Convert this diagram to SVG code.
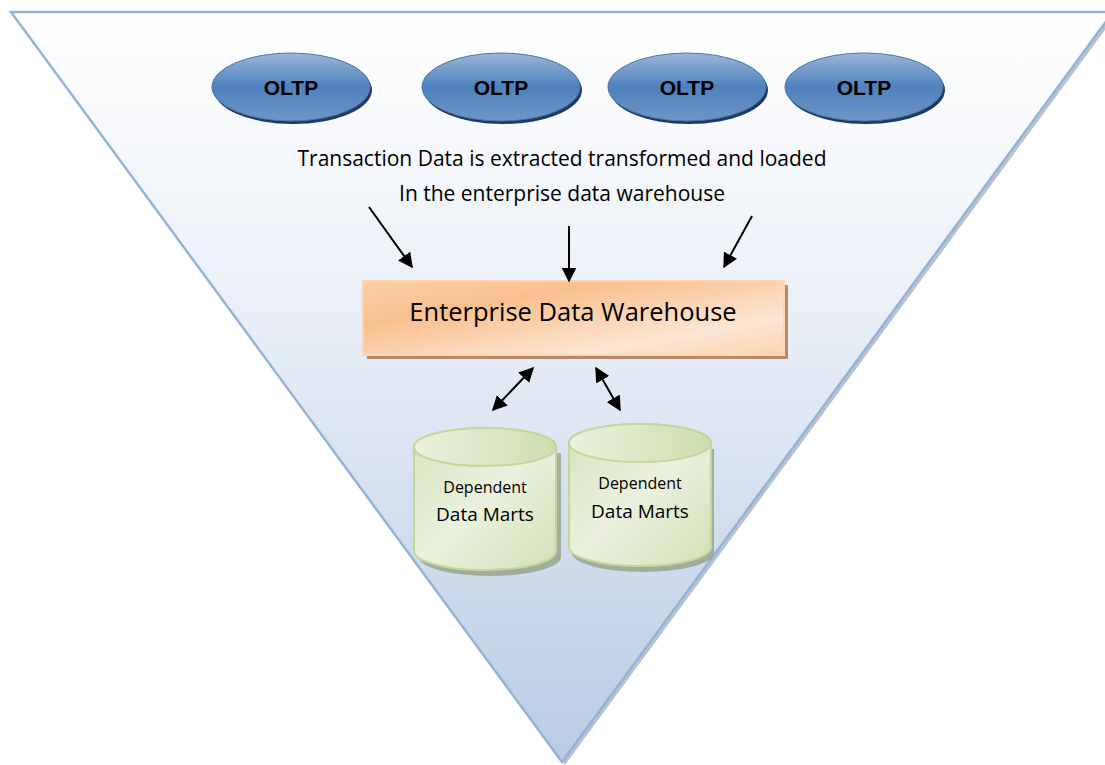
<svg xmlns="http://www.w3.org/2000/svg" width="1105" height="765" viewBox="0 0 1105 765">
<defs>
<linearGradient id="triG" x1="0" y1="0" x2="0" y2="1">
<stop offset="0" stop-color="#ffffff"/>
<stop offset="0.4" stop-color="#eaeff7"/>
<stop offset="1" stop-color="#b8cce4"/>
</linearGradient>
<linearGradient id="oltpG" x1="0" y1="0" x2="0" y2="1">
<stop offset="0" stop-color="#9ab6d9"/>
<stop offset="0.5" stop-color="#4f81bd"/>
<stop offset="1" stop-color="#6f95c6"/>
</linearGradient>
<linearGradient id="edwG" x1="0" y1="0" x2="1" y2="1">
<stop offset="0" stop-color="#fbd0a8"/>
<stop offset="0.3" stop-color="#f9c08e"/>
<stop offset="0.75" stop-color="#fde6d3"/>
<stop offset="1" stop-color="#fbd3b0"/>
</linearGradient>
<linearGradient id="cylG" x1="0" y1="0" x2="1" y2="1">
<stop offset="0" stop-color="#d6e3bc"/>
<stop offset="0.5" stop-color="#ebf1de"/>
<stop offset="1" stop-color="#d2e0b5"/>
</linearGradient>
<linearGradient id="cylTop" x1="0" y1="0" x2="1" y2="0">
<stop offset="0" stop-color="#eaf1dd"/>
<stop offset="1" stop-color="#cfdeb0"/>
</linearGradient>
<marker id="ah" viewBox="0 0 10 10" refX="9" refY="5" markerWidth="7.5" markerHeight="7.5" orient="auto-start-reverse" markerUnits="strokeWidth">
<path d="M0,0 L10,5 L0,10 z" fill="#000"/>
</marker>
</defs>
<style>
.oltp { fill: url(#oltpG); stroke: #4a75aa; stroke-width: 1; }
.oltpT { font-family: "Liberation Sans", Arial, sans-serif; font-weight: bold; font-size: 21px; text-anchor: middle; fill: #000; }
.lbl { font-family: "Open Sans", "Liberation Sans", sans-serif; font-size: 21px; text-anchor: middle; fill: #000; }
.edwT { font-family: "Open Sans", "Liberation Sans", sans-serif; font-size: 25.5px; text-anchor: middle; fill: #000; }
.depS { font-family: "Open Sans", "Liberation Sans", sans-serif; font-size: 16px; text-anchor: middle; fill: #000; }
.depL { font-family: "Open Sans", "Liberation Sans", sans-serif; font-size: 19px; text-anchor: middle; fill: #000; }
.arr { stroke: #000; stroke-width: 2; fill: none; marker-end: url(#ah); }
.arr2 { stroke: #000; stroke-width: 2; fill: none; marker-end: url(#ah); marker-start: url(#ah); }
.cyl { fill: url(#cylG); stroke: #c4d79b; stroke-width: 2; }
</style>

<g id="funnel">
<polygon points="14,15 1116,15 565,765" fill="#8a9bb0" opacity="0.6"/>
<polygon points="11,12 1113,12 562,762" fill="url(#triG)" stroke="#95b3d7" stroke-width="2.5" stroke-linejoin="miter"/>
</g>

<g id="oltp1">
<ellipse cx="293" cy="90" rx="79" ry="34" fill="#1f3a60"/>
<ellipse class="oltp" cx="291" cy="87" rx="79" ry="34"/>
<text class="oltpT" x="291" y="95">OLTP</text>
</g>
<g id="oltp2">
<ellipse cx="503" cy="90" rx="79" ry="34" fill="#1f3a60"/>
<ellipse class="oltp" cx="501" cy="87" rx="79" ry="34"/>
<text class="oltpT" x="501" y="95">OLTP</text>
</g>
<g id="oltp3">
<ellipse cx="689" cy="90" rx="79" ry="34" fill="#1f3a60"/>
<ellipse class="oltp" cx="687" cy="87" rx="79" ry="34"/>
<text class="oltpT" x="687" y="95">OLTP</text>
</g>
<g id="oltp4">
<ellipse cx="866" cy="90" rx="79" ry="34" fill="#1f3a60"/>
<ellipse class="oltp" cx="864" cy="87" rx="79" ry="34"/>
<text class="oltpT" x="864" y="95">OLTP</text>
</g>

<g id="caption">
<text class="lbl" x="562" y="166">Transaction Data is extracted transformed and loaded</text>
<text class="lbl" x="562" y="201">In the enterprise data warehouse</text>
</g>

<g id="edw">
<rect x="367" y="285" width="421" height="74" fill="#b58a6a"/>
<rect x="363" y="281" width="421" height="74" fill="url(#edwG)" stroke="#fbd5b5" stroke-width="2"/>
<text class="edwT" x="573" y="321">Enterprise Data Warehouse</text>
</g>

<g id="mart1">
<path d="M416,450 v104 a71,19 0 0 0 142,0 v-104" fill="#8e9a7a" opacity="0.7" transform="translate(3,3)"/>
<path class="cyl" d="M414,447 v104 a71,19 0 0 0 142,0 v-104 a71,19 0 0 0 -142,0 z"/>
<ellipse cx="485" cy="447" rx="71" ry="19" fill="url(#cylTop)" stroke="#c4d79b" stroke-width="2"/>
<text class="depS" x="485" y="493">Dependent</text>
<text class="depL" x="485" y="521">Data Marts</text>
</g>
<g id="mart2">
<path d="M572,446 v104 a71,19 0 0 0 142,0 v-104" fill="#8e9a7a" opacity="0.7" transform="translate(0,3)"/>
<path class="cyl" d="M569,443 v104 a71,19 0 0 0 142,0 v-104 a71,19 0 0 0 -142,0 z"/>
<ellipse cx="640" cy="443" rx="71" ry="19" fill="url(#cylTop)" stroke="#c4d79b" stroke-width="2"/>
<text class="depS" x="640" y="489">Dependent</text>
<text class="depL" x="640" y="518">Data Marts</text>
</g>

<g id="connectors">
<line class="arr" x1="369" y1="207" x2="412" y2="267"/>
<line class="arr" x1="569" y1="226" x2="569" y2="281"/>
<line class="arr" x1="752" y1="216" x2="724" y2="267"/>
<line class="arr2" x1="493" y1="410" x2="533" y2="368"/>
<line class="arr2" x1="596" y1="368" x2="620" y2="410"/>
</g>
</svg>
